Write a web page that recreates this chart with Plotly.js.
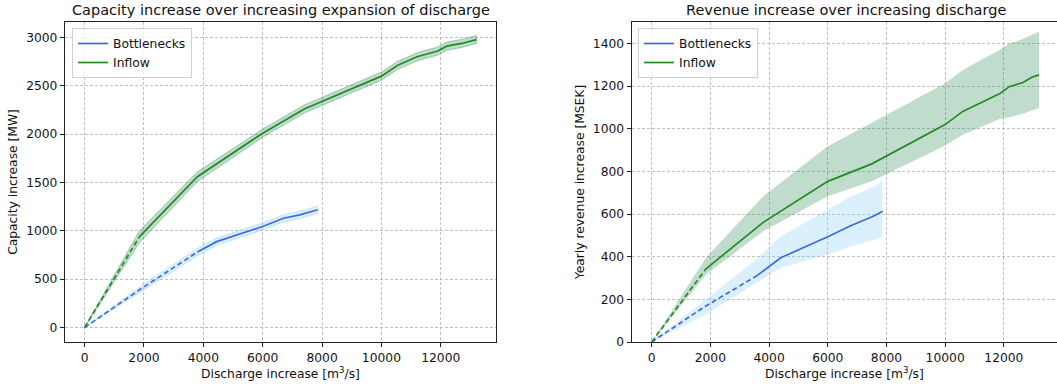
<!DOCTYPE html>
<html>
<head>
<meta charset="utf-8">
<script src="https://cdn.plot.ly/plotly-3.0.1.min.js"></script>
<style>html,body{margin:0;padding:0;background:#fff;}#chart{width:1057px;height:385px;}</style>
</head>
<body>
<div id="chart"></div>
<script>
// ---- Data ----
// Left: capacity increase [MW] vs discharge increase [m3/s]
const capX_bn = [0, 1900, 3800, 4450, 6000, 6700, 7250, 7850];
const capY_bn = [0, 400, 780, 888, 1045, 1130, 1165, 1218];
const capUp_bn = [0, 430, 818, 925, 1082, 1167, 1202, 1255];
const capLo_bn = [0, 370, 742, 851, 1008, 1093, 1128, 1181];

const capX_in = [0, 1850, 3800, 6000, 7400, 10000, 10550, 11200, 11900, 12200, 12700, 13200];
const capY_in = [0, 940, 1560, 2010, 2260, 2600, 2712, 2800, 2860, 2910, 2938, 2978];
const capUp_in = [0, 1000, 1610, 2052, 2302, 2642, 2754, 2842, 2902, 2952, 2980, 3018];
const capLo_in = [0, 880, 1510, 1968, 2218, 2558, 2670, 2758, 2818, 2868, 2896, 2938];

// Right: yearly revenue increase [MSEK] vs discharge increase [m3/s]
const revX_bn = [0, 1800, 3600, 4400, 6000, 6800, 7550, 7870];
const revY_bn = [0, 165, 312, 395, 493, 546, 589, 613];
const revUp_bn = [0, 195, 390, 496, 621, 683, 725, 757];
const revLo_bn = [0, 125, 280, 348, 410, 449, 478, 495];

const revX_in = [0, 1850, 3800, 6000, 7500, 10000, 10600, 11850, 12200, 12650, 12950, 13200];
const revY_in = [0, 343, 561, 753, 835, 1019, 1081, 1163, 1198, 1216, 1241, 1252];
const revUp_in = [0, 395, 683, 917, 1028, 1213, 1275, 1369, 1400, 1420, 1440, 1454];
const revLo_in = [0, 316, 519, 683, 753, 921, 972, 1045, 1054, 1070, 1085, 1097];

// number of leading points drawn dashed (origin extrapolation)
const capDash_bn = 3, capDash_in = 2, revDash_bn = 3, revDash_in = 2;

const tickVals_x = [0, 2000, 4000, 6000, 8000, 10000, 12000];
const tickText_x = ["0", "2000", "4000", "6000", "8000", "10000", "12000"];
const titles = ["Capacity increase over increasing expansion of discharge", "Revenue increase over increasing discharge"];
const xTitle = "Discharge increase [m<sup>3</sup>/s]";
const yTitles = ["Capacity increase [MW]", "Yearly revenue increase [MSEK]"];
const names = ["Bottlenecks", "Inflow"];

// ---- Styles ----
const BLUE = "#4169E1", GREEN = "#228B22";
const BLUE_FILL = "rgba(135,206,250,0.3)", GREEN_FILL = "rgba(46,139,87,0.3)";
const BLUE_EDGE = "rgba(135,206,250,0.45)", GREEN_EDGE = "rgba(46,139,87,0.4)";
const FONT = "DejaVu Sans";
const FS = 12.3;

function band(X, up, lo, xa, ya, fill, edge) {
  return {x: X.concat(X.slice().reverse()), y: up.concat(lo.slice().reverse()),
    xaxis: xa, yaxis: ya, type: "scatter", mode: "lines", fill: "toself",
    fillcolor: fill, line: {width: 1, color: edge}, hoverinfo: "skip", showlegend: false};
}
function dashed(X, Y, n, xa, ya, color) {
  return {x: X.slice(0, n), y: Y.slice(0, n), xaxis: xa, yaxis: ya, type: "scatter", mode: "lines",
    line: {color: color, width: 1.7, dash: "5px,3px"}, showlegend: false, hoverinfo: "skip"};
}
function solid(X, Y, n, xa, ya, color, name, legend) {
  return {x: X.slice(n - 1), y: Y.slice(n - 1), xaxis: xa, yaxis: ya, type: "scatter", mode: "lines",
    line: {color: color, width: 1.7}, name: name, legend: legend};
}

const traces = [
  band(capX_bn, capUp_bn, capLo_bn, "x", "y", BLUE_FILL, BLUE_EDGE),
  band(capX_in, capUp_in, capLo_in, "x", "y", GREEN_FILL, GREEN_EDGE),
  dashed(capX_bn, capY_bn, capDash_bn, "x", "y", BLUE),
  dashed(capX_in, capY_in, capDash_in, "x", "y", GREEN),
  solid(capX_bn, capY_bn, capDash_bn, "x", "y", BLUE, names[0], "legend"),
  solid(capX_in, capY_in, capDash_in, "x", "y", GREEN, names[1], "legend"),
  band(revX_bn, revUp_bn, revLo_bn, "x2", "y2", BLUE_FILL, "rgba(0,0,0,0)"),
  band(revX_in, revUp_in, revLo_in, "x2", "y2", GREEN_FILL, "rgba(0,0,0,0)"),
  dashed(revX_bn, revY_bn, revDash_bn, "x2", "y2", BLUE),
  dashed(revX_in, revY_in, revDash_in, "x2", "y2", GREEN),
  solid(revX_bn, revY_bn, revDash_bn, "x2", "y2", BLUE, names[0], "legend2"),
  solid(revX_in, revY_in, revDash_in, "x2", "y2", GREEN, names[1], "legend2")
];

const W = 1057, H = 385;
const axCommon = {
  showgrid: true, gridcolor: "#b0b0b0", gridwidth: 0.8, griddash: "3px,2px",
  zeroline: false, showline: true, linecolor: "#222", linewidth: 1.1,
  ticks: "outside", ticklen: 4, tickcolor: "#222", tickwidth: 1,
  tickfont: {family: FONT, size: FS, color: "#111"}
};
const yTop = (H - 22) / H, yBot = (H - 342) / H;

const legendStyle = {
  bgcolor: "rgba(255,255,255,0.8)", bordercolor: "#d0d0d0", borderwidth: 1,
  font: {family: FONT, size: FS, color: "#111"}, xanchor: "left", yanchor: "top",
  itemwidth: 30, tracegroupgap: 0
};

const layout = {
  width: W, height: H, margin: {l: 0, r: 0, t: 0, b: 0},
  paper_bgcolor: "#fff", plot_bgcolor: "#fff",
  font: {family: FONT, color: "#111"},
  xaxis: Object.assign({}, axCommon, {domain: [65 / W, 496 / W], range: [-660, 13860],
    tickvals: tickVals_x, ticktext: tickText_x, mirror: true, anchor: "y",
    title: {text: xTitle, font: {family: FONT, size: FS, color: "#111"}, standoff: 4}}),
  yaxis: Object.assign({}, axCommon, {domain: [yBot, yTop], range: [-150, 3160], dtick: 500,
    mirror: true, anchor: "x",
    title: {text: yTitles[0], font: {family: FONT, size: FS, color: "#111"}, standoff: 5}}),
  xaxis2: Object.assign({}, axCommon, {domain: [631.7 / W, 1], range: [-680, 13810],
    tickvals: tickVals_x, ticktext: tickText_x, mirror: true, anchor: "y2",
    title: {text: xTitle, font: {family: FONT, size: FS, color: "#111"}, standoff: 4}}),
  yaxis2: Object.assign({}, axCommon, {domain: [yBot, yTop], range: [0, 1500], dtick: 200,
    mirror: false, anchor: "x2",
    title: {text: yTitles[1], font: {family: FONT, size: FS, color: "#111"}, standoff: 5}}),
  legend: Object.assign({}, legendStyle, {x: 72 / W, y: (H - 28) / H}),
  legend2: Object.assign({}, legendStyle, {x: 638 / W, y: (H - 28) / H}),
  annotations: [
    {text: titles[0], xref: "paper", yref: "paper", x: 280.5 / W, y: (H - 10) / H,
     xanchor: "center", yanchor: "middle", showarrow: false, font: {family: FONT, size: 14.5, color: "#111"}},
    {text: titles[1], xref: "paper", yref: "paper", x: 846 / W, y: (H - 10) / H,
     xanchor: "center", yanchor: "middle", showarrow: false, font: {family: FONT, size: 14.5, color: "#111"}}
  ]
};

Plotly.newPlot("chart", traces, layout, {displayModeBar: false, staticPlot: true});
</script>
</body>
</html>
